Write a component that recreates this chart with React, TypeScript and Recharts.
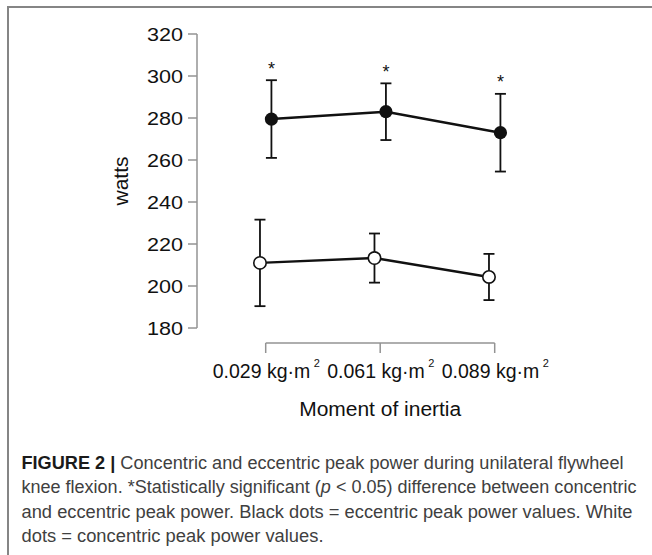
import React from "react";
import { ScatterChart, Scatter, XAxis, YAxis, ErrorBar, ReferenceLine, Label } from "recharts";

// moment of inertia (kg·m²)
const inertia = ["0.029", "0.061", "0.089"];
// eccentric = black dots, concentric = white dots (watts, mean ± SD)
const eccentricMean = [279.5, 283, 273];
const eccentricSd = [18.5, 13.5, 18.5];
const concentricMean = [211, 213.3, 204.3];
const concentricSd = [20.6, 11.7, 11];
const significant = [true, true, true];
const yTicks = [180, 200, 220, 240, 260, 280, 300, 320];

const X_DOMAIN = [0.4, 3.6];
const Y_DOMAIN = [172.86, 320];
const DODGE = 0.05;
const FONT = '"Liberation Sans", Arial, Helvetica, sans-serif';
const AXIS_GREY = "#939393";
const INK = "#111";

const eccentric = inertia.map((_, i) => ({ x: i + 1 + DODGE, y: eccentricMean[i], err: eccentricSd[i] }));
const concentric = inertia.map((_, i) => ({ x: i + 1 - DODGE, y: concentricMean[i], err: concentricSd[i] }));
const stars = inertia.flatMap((_, i) =>
  significant[i] ? [{ x: i + 1 + DODGE, y: eccentricMean[i] + eccentricSd[i] }] : []
);

const YTick = ({ x, y, payload }: any) => (
  <text x={x} y={y} dy="0.355em" textAnchor="end" fontSize={19} fill={INK} fontFamily={FONT}
    textLength={36} lengthAdjust="spacingAndGlyphs">
    {payload.value}
  </text>
);

// tick label with a raised "2" (kg·m²), drawn as two texts so they do not share one box
const XTick = ({ x, y, payload }: any) => (
  <g>
    <text x={x - 53} y={y + 25} textAnchor="start" fontSize={19.5} fill={INK} fontFamily={FONT}>
      {`${inertia[payload.value - 1]} kg·m`}
    </text>
    <text x={x + 48} y={y + 14} textAnchor="start" fontSize={11} fill={INK} fontFamily={FONT}>2</text>
  </g>
);

const BlackDot = ({ cx, cy }: any) => <circle cx={cx} cy={cy} r={6.6} fill={INK} />;
const WhiteDot = ({ cx, cy }: any) => <circle cx={cx} cy={cy} r={6.2} fill="#fff" stroke={INK} strokeWidth={1.6} />;
const Star = ({ cx, cy }: any) => (
  <text x={cx} y={cy - 5.5} textAnchor="middle" fontSize={18} fill={INK} fontFamily={FONT}>*</text>
);

const captionLines = [
  { w: 602, parts: [{ t: "FIGURE 2 |", b: true }, { t: " Concentric and eccentric peak power during unilateral flywheel" }] },
  { w: 615, parts: [{ t: "knee flexion. *Statistically significant (" }, { t: "p", i: true }, { t: " < 0.05) difference between concentric" }] },
  { w: 611, parts: [{ t: "and eccentric peak power. Black dots = eccentric peak power values. White" }] },
  { w: 302, parts: [{ t: "dots = concentric peak power values." }] },
];

export default function App() {
  return (
    <div style={{ position: "absolute", left: 0, top: 0, width: 652, height: 555, overflow: "hidden", background: "#fff" }}>
      <div style={{ position: "absolute", left: 7, top: 6, width: 700, height: 600, borderLeft: "2px solid #858585", borderTop: "2px solid #858585" }} />
      <div style={{ position: "absolute", left: 0, top: 0 }}>
        <ScatterChart width={652} height={440} margin={{ top: 34, right: 88.6, left: 0, bottom: 37 }}>
          <XAxis type="number" dataKey="x" domain={X_DOMAIN} ticks={[1, 2, 3]} allowDataOverflow
            axisLine={false} tickLine={{ stroke: AXIS_GREY, strokeWidth: 1.5 }} tickSize={10} tickMargin={0}
            height={60} tick={<XTick />} interval={0}>
            <Label content={({ viewBox }: any) => (
              <text x={viewBox.x + viewBox.width / 2} y={viewBox.y + 73} textAnchor="middle" fontSize={20}
                fill={INK} fontFamily={FONT} textLength={162} lengthAdjust="spacingAndGlyphs">Moment of inertia</text>
            )} />
          </XAxis>
          <YAxis type="number" dataKey="y" domain={Y_DOMAIN} ticks={yTicks} allowDataOverflow width={197}
            axisLine={false} tickLine={{ stroke: AXIS_GREY, strokeWidth: 1.5 }} tickSize={9} tickMargin={5}
            tick={<YTick />} interval={0}>
            <Label content={({ viewBox }: any) => {
              const cx = viewBox.x + viewBox.width - 76.5;
              const cy = viewBox.y + 147;
              return (
                <text x={cx} y={cy} transform={`rotate(-90 ${cx} ${cy})`} dy="0.355em" textAnchor="middle"
                  fontSize={21} fill={INK} fontFamily={FONT} textLength={49} lengthAdjust="spacingAndGlyphs">watts</text>
              );
            }} />
          </YAxis>
          <ReferenceLine segment={[{ x: X_DOMAIN[0], y: yTicks[0] }, { x: X_DOMAIN[0], y: yTicks[yTicks.length - 1] }]}
            stroke={AXIS_GREY} strokeWidth={1.5} ifOverflow="visible" />
          <ReferenceLine segment={[{ x: 1, y: Y_DOMAIN[0] }, { x: inertia.length, y: Y_DOMAIN[0] }]}
            stroke={AXIS_GREY} strokeWidth={1.5} ifOverflow="visible" />
          <Scatter data={concentric} line={{ stroke: INK, strokeWidth: 2.4 }} shape={<WhiteDot />} isAnimationActive={false}>
            <ErrorBar dataKey="err" direction="y" width={5.5} stroke={INK} strokeWidth={1.8} />
          </Scatter>
          <Scatter data={eccentric} line={{ stroke: INK, strokeWidth: 2.4 }} shape={<BlackDot />} isAnimationActive={false}>
            <ErrorBar dataKey="err" direction="y" width={5.5} stroke={INK} strokeWidth={1.8} />
          </Scatter>
          <Scatter data={stars} shape={<Star />} isAnimationActive={false} />
        </ScatterChart>
      </div>
      <svg style={{ position: "absolute", left: 0, top: 0 }} width={652} height={555} pointerEvents="none">
        {captionLines.map((ln, k) => (
          <text key={k} x={21.5} y={468.5 + k * 24.6} fontSize={17.5} fill="#404040" fontFamily={FONT}
            textLength={ln.w} lengthAdjust="spacingAndGlyphs">
            {ln.parts.map((p: any, j) => (
              <tspan key={j} fontWeight={p.b ? 700 : 400} fill={p.b ? "#1a1a1a" : undefined}
                fontStyle={p.i ? "italic" : undefined}>{p.t}</tspan>
            ))}
          </text>
        ))}
      </svg>
    </div>
  );
}
